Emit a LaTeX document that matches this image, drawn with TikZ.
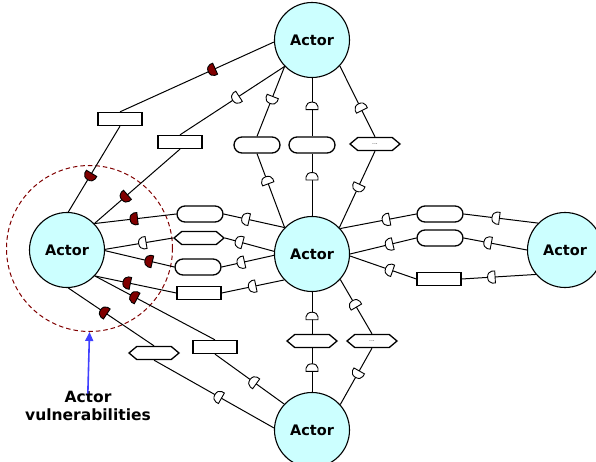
\documentclass[tikz,border=0pt]{standalone}
\usepackage{fontspec}
\setmainfont{DejaVu Sans}
\usetikzlibrary{shapes.symbols,shapes.misc,arrows.meta}
\definecolor{actorfill}{RGB}{204,255,255}
\definecolor{vulred}{RGB}{128,0,0}
\definecolor{arrowblue}{RGB}{64,64,255}
\tikzset{
  actor/.style={circle,draw,line width=1.1pt,fill=actorfill,minimum size=75pt,inner sep=0pt,font=\fontsize{14.5}{16}\bfseries},
  box/.style={rectangle,draw,line width=1.3pt,fill=white,minimum width=44pt,minimum height=13pt,inner sep=0pt},
  pill/.style={rounded rectangle,draw,line width=1.3pt,fill=white,minimum width=46pt,minimum height=16pt,inner sep=0pt},
  hexa/.style={signal,signal to=east and west,signal pointer angle=80,draw,line width=1.3pt,fill=white,minimum width=50pt,minimum height=13pt,inner sep=0pt,font=\fontsize{6}{6}\selectfont\color{darkgray}},
  conn/.style={line width=1pt},
  pics/vulw/.style={code={\draw[line width=0.9pt,fill=white] (3,-6) -- (3,6) -- (0,6) arc[start angle=90,end angle=270,x radius=4.5,y radius=6] -- cycle;}},
  pics/vulr/.style={code={\draw[line width=0.9pt,fill=vulred] (3,-6) -- (3,6) -- (0,6) arc[start angle=90,end angle=270,x radius=4.5,y radius=6] -- cycle;}},
}
\newcommand\vlink[4]{\draw[conn] (#1) -- (#2); \path (#1) -- (#2) pic[pos=#3,sloped]{#4};}
\begin{document}
\begin{tikzpicture}[x=1pt,y=-1pt]
\useasboundingbox (0,0) rectangle (596,462);
\node[circle,draw=vulred,dash pattern=on 4.5pt off 3pt,line width=1pt,minimum size=166pt,inner sep=0pt] (vz) at (89.5,248.5) {};
% actors
\node[actor] (la) at (67,250) {Actor};
\node[actor] (ta) at (312,40) {Actor};
\node[actor] (ca) at (312,254) {Actor};
\node[actor] (ra) at (565,250) {Actor};
\node[actor] (ba) at (312,430) {Actor};
% intermediate shapes
\node[box] (r1) at (120,119) {};
\node[box] (r2) at (180,142) {};
\node[pill] (s1) at (200,214) {};
\node[hexa] (h1) at (199,238) {};
\node[pill] (s2) at (198,267) {};
\node[box] (r3) at (199,293) {};
\node[box] (r4) at (215,347) {};
\node[hexa] (h2) at (154,353) {};
\node[pill] (s3) at (257,145) {};
\node[pill] (s4) at (312,145) {};
\node[hexa] (h3) at (375,144) {...};
\node[pill] (s5) at (440,214) {};
\node[pill] (s6) at (440,238) {};
\node[box] (r5) at (439,279) {};
\node[hexa] (h4) at (312,341) {};
\node[hexa] (h5) at (372,341) {...};
% links
\vlink{la.88}{r1.south}{0.42}{vulr}
\vlink{r1.north}{ta.183}{0.60}{vulr}
\vlink{la.44}{r2.south}{0.36}{vulr}
\vlink{r2.north}{ta.224}{0.54}{vulw}
\vlink{la.44}{s1.west}{0.49}{vulr}
\vlink{s1.east}{ca.136}{0.37}{vulw}
\vlink{la.1}{h1.west}{0.56}{vulw}
\vlink{h1.east}{ca.176}{0.30}{vulw}
\vlink{la.-1}{s2.west}{0.64}{vulr}
\vlink{s2.east}{ca.182}{0.38}{vulw}
\vlink{la.-43}{r3.west}{0.40}{vulr}
\vlink{r3.east}{ca.223}{0.50}{vulw}
\vlink{la.-43}{r4.north}{0.33}{vulr}
\vlink{r4.south}{ba.137}{0.56}{vulw}
\vlink{la.-88}{h2.north}{0.42}{vulr}
\vlink{h2.south}{ba.177}{0.54}{vulw}
\vlink{ta.224}{s3.north}{0.47}{vulw}
\vlink{s3.south}{ca.136}{0.37}{vulw}
\vlink{ta.south}{s4.north}{0.49}{vulw}
\vlink{s4.south}{ca.north}{0.375}{vulw}
\vlink{ta.-43}{h3.north}{0.59}{vulw}
\vlink{h3.south}{ca.44}{0.47}{vulw}
\vlink{ca.42}{s5.west}{0.61}{vulw}
\vlink{s5.east}{ra.135}{0.44}{vulw}
\vlink{ca.0}{s6.west}{0.6}{vulw}
\vlink{s6.east}{ra.180}{0.39}{vulw}
\vlink{ca.-3}{r5.west}{0.6}{vulw}
\vlink{r5.east}{ra.220}{0.41}{vulw}
\vlink{ca.south}{h4.north}{0.59}{vulw}
\vlink{h4.south}{ba.north}{0.46}{vulw}
\vlink{ca.-42}{h5.north}{0.46}{vulw}
\vlink{h5.south}{ba.42}{0.45}{vulw}
% label
\node[font=\fontsize{15.5}{18}\bfseries,align=center] (lab) at (88,406) {Actor\\vulnerabilities};
\draw[arrowblue,line width=1.6pt,shorten <=-6pt,-{Triangle[length=9pt,width=8pt]}] (lab.north) -- (vz.south);
\end{tikzpicture}
\end{document}
